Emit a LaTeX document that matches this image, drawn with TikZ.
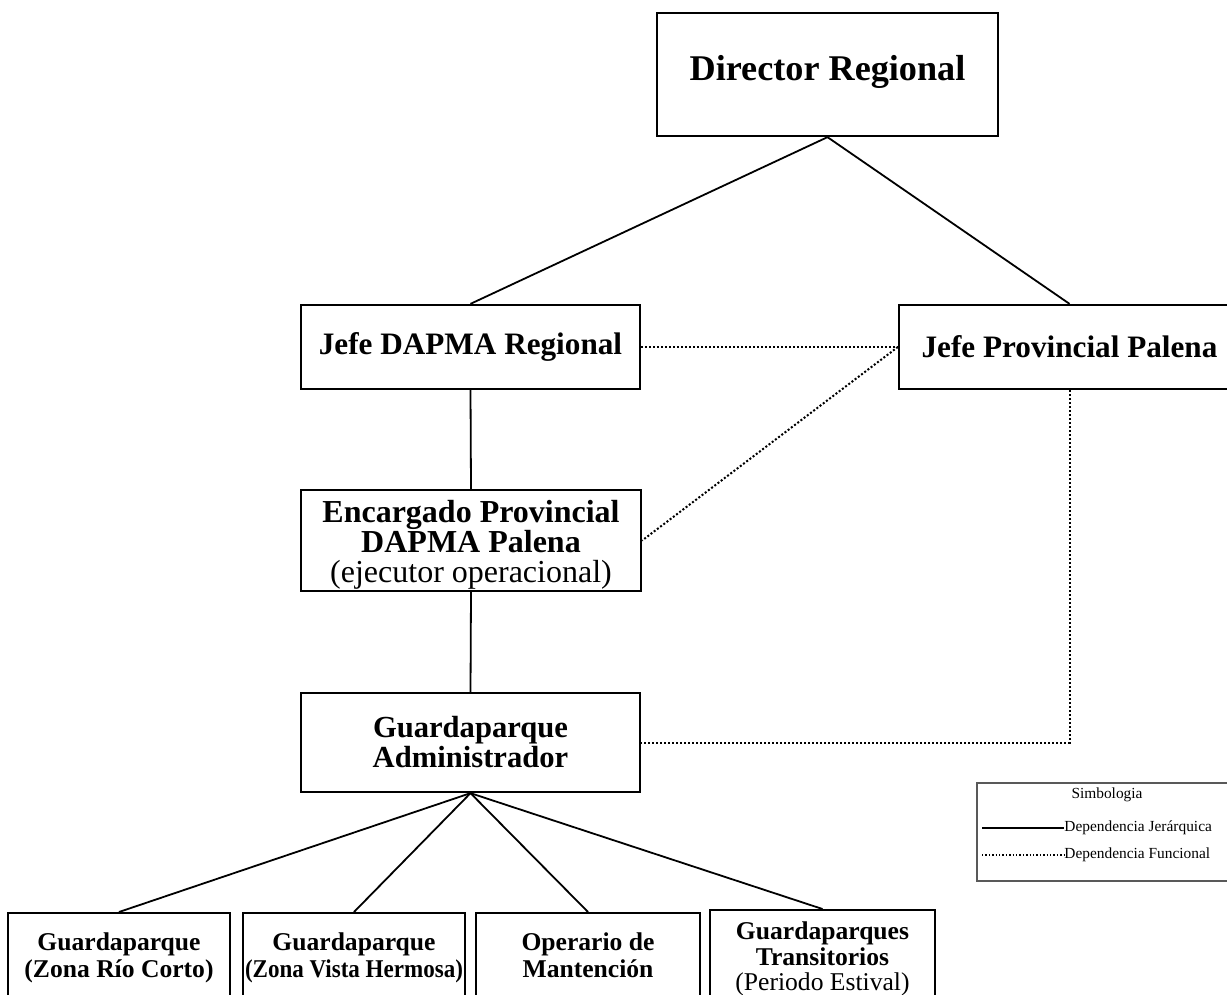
\documentclass[tikz,border=0pt]{standalone}
\usepackage{fontspec,graphicx}
\setmainfont{Liberation Serif}
\newcommand\bpad{\rule[-40pt]{0pt}{0pt}}
\tikzset{bx/.style={draw,line width=1.15pt,align=center,inner sep=0pt},hd/.style={font=\bfseries\fontsize{15.6}{15}\selectfont},sm/.style={bx,anchor=north,minimum width=111pt,inner ysep=9.8pt,font=\bfseries\fontsize{12.8}{13.5}\selectfont},jer/.style={line width=0.9pt},fun/.style={line width=1pt,densely dotted},ley/.style={font=\fontsize{7.7}{9}\selectfont,inner sep=0pt}}

\begin{document}
\begin{tikzpicture}[x=0.5pt,y=-0.5pt]
\useasboundingbox(0,0)rectangle(1227,995);\clip(0,0)rectangle(1227,995);
\node[bx,minimum width=170.5pt,minimum height=61.5pt,font=\bfseries\fontsize{18.1}{20}\selectfont](DR)at(827.5,74.5){Director Regional\rule[-7pt]{0pt}{0pt}};
\node[bx,hd,minimum width=169.5pt,minimum height=42pt](JD)at(470.5,347){Jefe DAPMA Regional};
\node[bx,hd,minimum width=170.5pt,minimum height=42pt](JP)at(1069.5,347){Jefe Provincial Palena};
\node[bx,minimum width=170pt,minimum height=50.5pt,font=\fontsize{16}{15.2}\selectfont](EP)at(471,540.5){\rule{0pt}{15.5pt}\textbf{Encargado Provincial}\\\textbf{DAPMA Palena}\\(ejecutor operacional)};
\node[bx,minimum width=169.5pt,minimum height=49.5pt,font=\bfseries\fontsize{15.3}{15}\selectfont](GA)at(470.5,742.5){Guardaparque\\Administrador};
\node[sm](G1)at(119,912){Guardaparque\\(Zona Río Corto)\bpad};
\node[sm](G2)at(354,912){Guardaparque\\\scalebox{.9}[1]{(Zona Vista Hermosa)}\bpad};
\node[sm,minimum width=112pt](OM)at(588,912){Operario de\\Mantención\bpad};
\node[sm,minimum width=112.5pt,inner ysep=6pt,font=\bfseries\fontsize{12.8}{12.75}\selectfont](GT)at(822.5,909){Guardaparques\\Transitorios\\\mdseries(Periodo Estival)\bpad};
\foreach\a/\b in{DR/JD,DR/JP,JD/EP,EP/GA}\draw[jer](\a.south)--(\b.north);
\foreach\b in{G1,G2,OM,GT}\draw[jer](GA.south)--(\b.north);
\draw[fun](JD)--(JP);\draw[fun](JP.west)--(EP.east);\draw[fun](JP.south)|-(GA.east);
% simbologia
\node[draw=black!65,line width=0.6pt,minimum width=131.5pt,minimum height=49pt,inner sep=0pt](LG)at(1108.5,832){};
\node[ley](LT)at(1107,795){Simbologia};
\coordinate(a1)at(982,828);\coordinate(a2)at(982,855);
\node[ley,anchor=west](LJ)at(1064,828){Dependencia Jerárquica};
\node[ley,anchor=west](LF)at(1064,855){Dependencia Funcional};
\draw[line width=0.7pt](a1)--(LJ.west);\draw[line width=0.7pt,densely dotted](a2)--(LF.west);
\end{tikzpicture}
\end{document}
